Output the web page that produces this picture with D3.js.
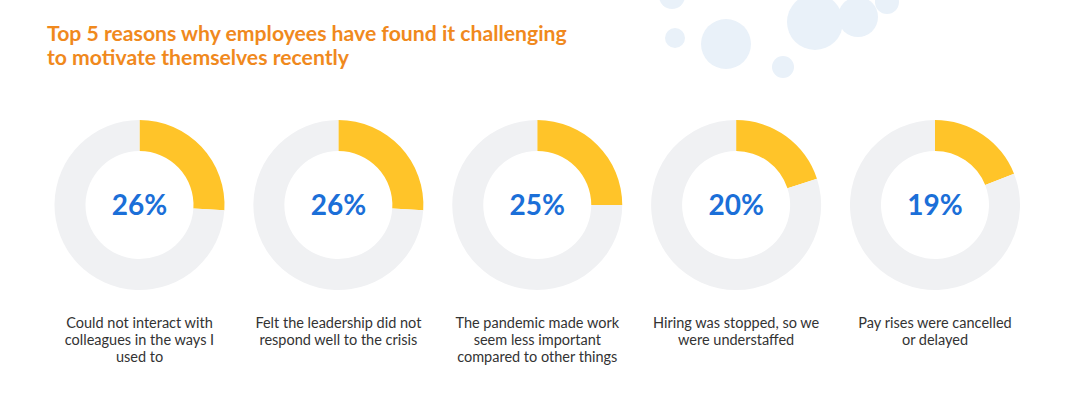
<!DOCTYPE html>
<html>
<head>
<meta charset="utf-8">
<script src="https://cdn.jsdelivr.net/npm/d3@7"></script>
<style>
  body { margin: 0; background: #fff; }
  svg { display: block; }
</style>
</head>
<body>
<div id="chart"></div>
<script>
// data
var reasons = [
    ["Could not interact with", "colleagues in the ways I", "used to"],
    ["Felt the leadership did not", "respond well to the crisis"],
    ["The pandemic made work", "seem less important", "compared to other things"],
    ["Hiring was stopped, so we", "were understaffed"],
    ["Pay rises were cancelled", "or delayed"]
];
var percents = [26, 26, 25, 20, 19];
var titleLines = [
    "Top 5 reasons why employees have found it challenging",
    "to motivate themselves recently"
];

var w = 1084, h = 395;
var outerR = 85, innerR = 54;

var svg = d3.select("#chart").append("svg")
    .attr("width", w)
    .attr("height", h);

// decorative bubbles top right
var bubbles = [
    [672, -4, 13], [675, 38, 10], [726, 44, 25], [783, 67, 11],
    [815, 22, 28], [858, 17, 20], [887, 2, 12]
];
svg.selectAll(".bubble")
    .data(bubbles)
    .enter().append("circle")
    .attr("class", "bubble")
    .attr("cx", function(d){ return d[0]; })
    .attr("cy", function(d){ return d[1]; })
    .attr("r", function(d){ return d[2]; })
    .style("fill", "#e9f1f9");

svg.selectAll(".title")
    .data(titleLines)
    .enter().append("text")
    .attr("class", "title")
    .attr("x", 47)
    .attr("y", function(d, i){ return 41 + i * 24; })
    .style("font-family", "Lato, sans-serif")
    .style("font-weight", "bold")
    .style("font-size", "21.2px")
    .style("fill", "#f0891d")
    .text(function(d){ return d; });

var x = d3.scalePoint()
    .domain(d3.range(percents.length))
    .range([139.5, 935]);

var arc = d3.arc().innerRadius(innerR).outerRadius(outerR);
var pie = d3.pie().sort(null).value(function(d){ return d; });

var groups = svg.selectAll(".donut")
    .data(percents)
    .enter().append("g")
    .attr("class", "donut")
    .attr("transform", function(d, i){ return "translate(" + x(i) + ",205)"; });

groups.selectAll("path")
    .data(function(d){ return pie([d, 100 - d]); })
    .enter().append("path")
    .attr("d", arc)
    .style("fill", function(d, i){ return i === 0 ? "#ffc429" : "#f0f1f3"; });

groups.append("text")
    .attr("text-anchor", "middle")
    .attr("y", 10)
    .style("font-family", "Lato, sans-serif")
    .style("font-weight", "bold")
    .style("font-size", "28px")
    .style("fill", "#1b6fd8")
    .text(function(d){ return d + "%"; });

groups.each(function(d, i){
    d3.select(this).selectAll(".label")
        .data(reasons[i])
        .enter().append("text")
        .attr("class", "label")
        .attr("text-anchor", "middle")
        .attr("y", function(t, j){ return 123 + j * 17; })
        .style("font-family", "Lato, sans-serif")
        .style("font-size", "14.5px")
        .style("fill", "#333")
        .text(function(t){ return t; });
});
</script>
</body>
</html>
